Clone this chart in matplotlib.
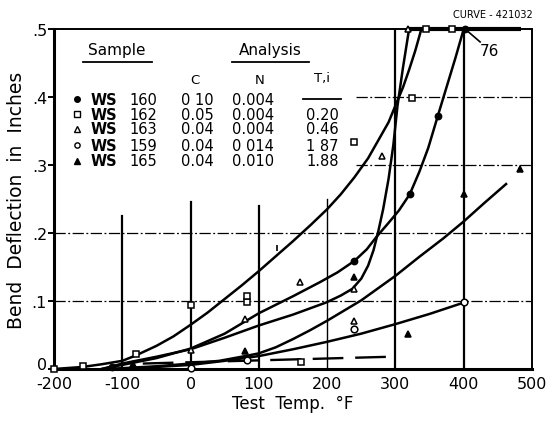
import matplotlib
matplotlib.use('Agg')
import matplotlib.pyplot as plt
import matplotlib.transforms as mtransforms

plt.rcParams['font.family'] = ['DejaVu Sans']

# curves (temperature F, deflection in)
curve_a_t = [-200, -158, -130, -100, -80, -50, -25, 0, 25, 50, 75, 100, 125, 150, 175, 200,
             220, 240, 260, 277, 290, 301, 311, 320, 329, 338]
curve_a_d = [0, 0.003, 0.007, 0.012, 0.02, 0.034, 0.048, 0.065, 0.083, 0.103, 0.123, 0.144, 0.166,
             0.188, 0.211, 0.235, 0.257, 0.282, 0.31, 0.34, 0.363, 0.39, 0.414, 0.44, 0.468, 0.5]

curve_160_t = [-130, -100, -50, 0, 50, 100, 150, 190, 215, 240, 258, 272, 290, 305, 321, 335,
               348, 362, 375, 388, 400]
curve_160_d = [0, 0.006, 0.016, 0.03, 0.052, 0.082, 0.107, 0.128, 0.142, 0.159, 0.176, 0.194,
               0.215, 0.233, 0.257, 0.29, 0.325, 0.372, 0.415, 0.458, 0.5]

curve_163_t = [-130, -100, -50, 0, 50, 100, 150, 199, 220, 237, 250, 260, 268, 275, 282, 290,
               297, 303, 311, 320]
curve_163_d = [0, 0.008, 0.018, 0.029, 0.046, 0.064, 0.08, 0.098, 0.108, 0.118, 0.133, 0.152,
               0.175, 0.203, 0.235, 0.28, 0.33, 0.387, 0.443, 0.5]

curve_165_t = [-120, -50, 0, 42, 80, 100, 125, 150, 175, 200, 250, 300, 335, 370, 400, 430, 462]
curve_165_d = [0, 0.004, 0.008, 0.012, 0.019, 0.023, 0.032, 0.044, 0.057, 0.071, 0.101, 0.137,
               0.165, 0.192, 0.217, 0.244, 0.272]

curve_159_t = [-110, -50, 0, 50, 100, 150, 200, 250, 300, 350, 401]
curve_159_d = [0, 0.003, 0.006, 0.012, 0.019, 0.029, 0.04, 0.052, 0.066, 0.081, 0.098]

dash_t = [-70, 292]
dash_d = [0.008, 0.018]

top_t = [318, 484]
top_d = [0.5, 0.5]

# test points
ws160_t = [-115, 240, 321, 362, 402]
ws160_d = [0.003, 0.159, 0.257, 0.372, 0.5]
ws162_t = [-200, -158, -80, 1, 82, 82, 162, 240, 324, 345, 383]
ws162_d = [0, 0.004, 0.022, 0.094, 0.099, 0.108, 0.01, 0.334, 0.399, 0.5, 0.5]
ws163_t = [0, 80, 160, 240, 240, 281, 318]
ws163_d = [0.028, 0.073, 0.128, 0.07, 0.117, 0.313, 0.5]
ws159_t = [0, 82, 240, 401]
ws159_d = [0.001, 0.013, 0.059, 0.098]
ws165_t = [-85, 80, 240, 318, 401, 483]
ws165_d = [0.008, 0.027, 0.135, 0.051, 0.257, 0.294]

# table
samples = ['160', '162', '163', '159', '165']
carbon = ['0 10', '0.05', '0.04', '0.04', '0.04']
nitrogen = ['0.004', '0.004', '0.004', '0 014', '0.010']
titanium = ['', '0.20', '0.46', '1 87', '1.88']
row_d = [0.397, 0.375, 0.353, 0.329, 0.306]

xticks = [-200, -100, 0, 100, 200, 300, 400, 500]
yticks = [0, 0.1, 0.2, 0.3, 0.4, 0.5]
ytick_labels = ['0', '.1', '.2', '.3', '.4', '.5']

fig = plt.figure(figsize=(5.52, 4.27), dpi=100)
ax = fig.add_axes([0.0978, 0.1335, 0.866, 0.7962])
ax.set_xlim(-200, 500)
ax.set_ylim(0, 0.5)

# grid
v_lines = [-100, 0, 100, 200, 300, 400]
v_tops = [0.225, 0.245, 0.24, 0.25, 0.5, 0.5]
v_widths = [1.6, 1.6, 1.6, 1.0, 1.6, 1.6]
for x, top, w in zip(v_lines, v_tops, v_widths):
    ax.plot([x, x], [0, top], color='black', lw=w, zorder=1)
h_lines = [0.1, 0.2, 0.3, 0.4]
h_starts = [-200, -200, 242, 242]
for y, x0 in zip(h_lines, h_starts):
    ax.plot([x0, 500], [y, y], color='black', lw=0.9, ls=(0, (9, 2, 1.5, 2)), zorder=1)

k = 'black'
for t, d in [(curve_a_t, curve_a_d), (curve_160_t, curve_160_d), (curve_163_t, curve_163_d),
             (curve_165_t, curve_165_d), (curve_159_t, curve_159_d)]:
    ax.plot(t, d, color=k, lw=1.8, zorder=2, clip_on=False, solid_joinstyle='round')
ax.plot(dash_t, dash_d, color=k, lw=1.7, ls=(0, (13, 5)), zorder=2)
ax.plot(top_t, top_d, color=k, lw=3, zorder=2, clip_on=False, solid_capstyle='butt')

mk = dict(ls='none', zorder=4, clip_on=False, mec='black', mew=1.1)
ax.plot(ws160_t, ws160_d, marker='o', ms=4.5, mfc='black', **mk)
ax.plot(ws162_t, ws162_d, marker='s', ms=4.8, mfc='white', **mk)
ax.plot(ws163_t, ws163_d, marker='^', ms=4.8, mfc='white', **mk)
ax.plot(ws159_t, ws159_d, marker='o', ms=4.8, mfc='white', **mk)
ax.plot(ws165_t, ws165_d, marker='^', ms=4.8, mfc='black', **mk)
ax.plot([126], [0.178], marker='|', ms=5, mew=1.2, color=k, ls='none')

# "76" callout
ax.plot([402, 424], [0.5, 0.481], color=k, lw=1.2, clip_on=False)
ax.text(437, 0.469, '76', fontsize=11, ha='center', va='center')

# table header
ax.text(-108, 0.47, 'Sample', fontsize=11, ha='center', va='center')
ax.plot([-158, -57], [0.451, 0.451], color=k, lw=1.3)
ax.text(117, 0.47, 'Analysis', fontsize=11, ha='center', va='center')
ax.plot([61, 173], [0.451, 0.451], color=k, lw=1.3)
ax.text(6, 0.426, 'C', fontsize=9.5, ha='center', va='center')
ax.text(101, 0.426, 'N', fontsize=9.5, ha='center', va='center')
ax.text(193, 0.429, 'T,i', fontsize=9.5, ha='center', va='center')

sym = [('o', 'black', 4), ('s', 'white', 3.8), ('^', 'white', 3.8), ('o', 'white', 3.8), ('^', 'black', 3.8)]
for i, d in enumerate(row_d):
    m, fc, s = sym[i]
    ax.plot([-167], [d], marker=m, ms=s, mfc=fc, mec='black', mew=1, ls='none')
    ax.text(-146, d, 'WS', fontsize=10.5, fontweight='bold', ha='left', va='center')
    ax.text(-89, d, samples[i], fontsize=10.5, ha='left', va='center')
    ax.text(10, d, carbon[i], fontsize=10.5, ha='center', va='center')
    ax.text(92, d, nitrogen[i], fontsize=10.5, ha='center', va='center')
    if titanium[i]:
        ax.text(193, d, titanium[i], fontsize=10.5, ha='center', va='center')
    else:
        ax.plot([164, 221], [d, d], color=k, lw=1.3)

ax.set_xticks(xticks)
ax.set_xticklabels([str(v) for v in xticks])
ax.set_yticks(yticks)
ax.set_yticklabels(ytick_labels)
ax.tick_params(axis='x', length=0, pad=5, labelsize=11.5)
ax.tick_params(axis='y', length=4, width=1.4, pad=1, labelsize=11.5)

# lift the "0" on the y axis a little so it clears "-200"
lbl0 = ax.get_yticklabels()[0]
lbl0.set_transform(lbl0.get_transform() + mtransforms.ScaledTranslation(0, 4 / 72, fig.dpi_scale_trans))

for side, w in [('left', 2.2), ('bottom', 2.2), ('top', 1.4), ('right', 1.4)]:
    ax.spines[side].set_linewidth(w)

ax.set_xlabel('Test  Temp.  °F', fontsize=12, labelpad=2)
ax.set_ylabel('Bend  Deflection  in  Inches', fontsize=13.5, labelpad=4)

fig.text(533 / 552, 1 - 15 / 427, 'CURVE - 421032', fontsize=7, ha='right', va='center')

fig.savefig('out.png', dpi=100)
